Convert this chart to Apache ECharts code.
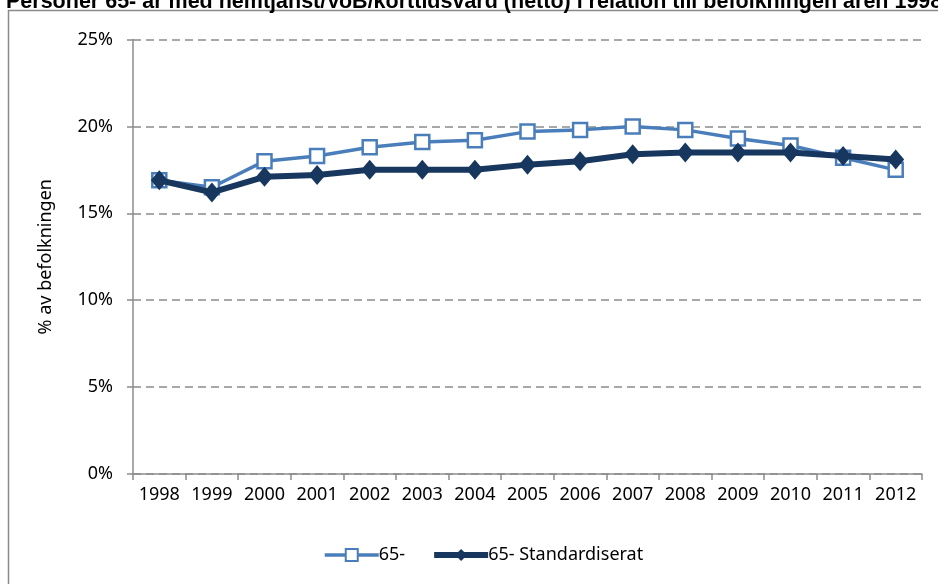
<!DOCTYPE html>
<html>
<head>
<meta charset="utf-8">
<script src="https://cdn.jsdelivr.net/npm/echarts@6/dist/echarts.min.js"></script>
<style>
html,body{margin:0;padding:0;background:#fff}
#chart{width:938px;height:584px}
</style>
</head>
<body>
<div id="chart"></div>
<script>
//kategorier och värden (andel av befolkningen, %)
var years = ['1998','1999','2000','2001','2002','2003','2004','2005','2006','2007','2008','2009','2010','2011','2012'];
var pers65 = [16.9,16.5,18.0,18.3,18.8,19.1,19.2,19.7,19.8,20.0,19.8,19.3,18.9,18.2,17.5];
var pers65Std = [16.9,16.2,17.1,17.2,17.5,17.5,17.5,17.8,18.0,18.4,18.5,18.5,18.5,18.3,18.1];
var yTicks = [0,5,10,15,20,25];

var titleText = 'Personer 65- år med hemtjänst/VoB/korttidsvård (netto) i relation till befolkningen åren 1998-2012';
var tickFont = 'Noto Sans';
var lightBlue = '#4a7ebb', darkBlue = '#17375e';

var myChart = echarts.init(document.getElementById('chart'));
var option = {
	animation: false,
	backgroundColor: '#fff',
	graphic: [{
		type: 'rect',
		shape: { x: 8.5, y: 10.5, width: 1000, height: 1000 },
		style: { fill: 'none', stroke: '#8a8a8a', lineWidth: 1.5 },
		silent: true
	}, {
		type: 'text',
		left: 6,
		top: -9,
		style: {
			text: titleText,
			font: 'bold 21.5px "Liberation Sans", Arial, sans-serif',
			fill: '#000'
		}
	}],
	grid: {
		left: 133,
		right: 16,
		top: 39.5,
		bottom: 110
	},
	legend: {
		left: 318,
		top: 541,
		itemWidth: 54,
		itemHeight: 15,
		itemGap: 26,
		textStyle: { fontFamily: tickFont, fontSize: 18, color: '#000', padding: [0, 0, 0, -5] },
		data: [
			{ name: '65-', lineStyle: { width: 3.5 } },
			{ name: '65- Standardiserat', lineStyle: { width: 6 } }
		]
	},
	xAxis: {
		type: 'category',
		boundaryGap: true,
		data: years,
		axisLine: { lineStyle: { color: '#8c8c8c', width: 1.5 } },
		axisTick: { show: true, length: 6, lineStyle: { color: '#8c8c8c', width: 1.5 } },
		axisLabel: { interval: 0, fontFamily: tickFont, fontSize: 18, color: '#000', margin: 12 }
	},
	yAxis: {
		type: 'value',
		min: yTicks[0],
		max: yTicks[yTicks.length - 1],
		interval: yTicks[1] - yTicks[0],
		name: '% av befolkningen',
		nameLocation: 'middle',
		nameGap: 78,
		nameTextStyle: { fontFamily: tickFont, fontSize: 18, color: '#000' },
		axisLine: { show: true, lineStyle: { color: '#8c8c8c', width: 1.5 } },
		axisTick: { show: true, length: 6, lineStyle: { color: '#8c8c8c', width: 1.5 } },
		axisLabel: {
			fontFamily: tickFont, fontSize: 18, color: '#000', margin: 20,
			formatter: function(v) { return v + '%'; }
		},
		splitLine: {
			show: true,
			lineStyle: { color: '#8c8c8c', width: 1.5, type: [8, 5] }
		}
	},
	series: [{
		name: '65-',
		type: 'line',
		data: pers65,
		symbol: 'rect',
		symbolSize: 14,
		lineStyle: { color: lightBlue, width: 3.5 },
		itemStyle: { color: '#ffffff', borderColor: lightBlue, borderWidth: 2.5 },
		z: 2
	}, {
		name: '65- Standardiserat',
		type: 'line',
		data: pers65Std,
		symbol: 'diamond',
		symbolSize: [17, 20],
		lineStyle: { color: darkBlue, width: 6 },
		itemStyle: { color: darkBlue, borderColor: darkBlue, borderWidth: 0 },
		z: 3
	}]
};
myChart.setOption(option);
</script>
</body>
</html>
